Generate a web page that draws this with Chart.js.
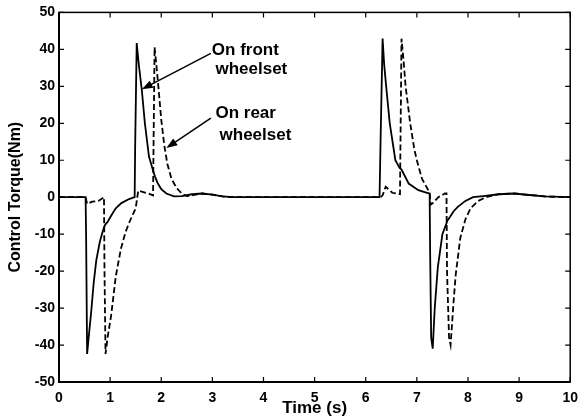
<!DOCTYPE html>
<html>
<head>
<meta charset="utf-8">
<script src="https://cdn.jsdelivr.net/npm/chart.js@4.4.1/dist/chart.umd.min.js"></script>
<style>
html, body { margin: 0; padding: 0; background: #fff; }
#wrap { width: 586px; height: 419px; }
</style>
</head>
<body>
<div id="wrap"><canvas id="mycanvas"></canvas></div>
<script>
// front wheelset (solid)
var timeFront = [0, 0.52, 0.53, 0.55, 0.58, 0.63, 0.68, 0.73, 0.8, 0.86, 0.9, 0.95, 1.02, 1.11, 1.22, 1.37, 1.48, 1.49, 1.52, 1.56, 1.62, 1.68, 1.76, 1.84, 1.88, 1.93, 2.0, 2.1, 2.25, 2.4, 2.6, 2.8, 3.0, 3.2, 3.4,
	6.27, 6.29, 6.33, 6.36, 6.4, 6.47, 6.58, 6.66, 6.7, 6.84, 7.03, 7.2, 7.25, 7.26, 7.28, 7.31, 7.35, 7.41, 7.5, 7.6, 7.65, 7.72, 7.8, 7.95, 8.1, 8.3, 8.6, 8.9, 9.2, 9.5, 10];
var torqueFront = [0, 0, -10, -42.4, -38, -31, -23, -17, -12, -9, -7.5, -6.7, -5, -3, -1.6, -0.5, 0, 14, 41.7, 36, 29, 20, 11, 7.2, 5.5, 3.8, 2.2, 1, 0.2, 0.3, 0.8, 1, 0.7, 0.2, 0,
	0, 15, 42.9, 36, 30, 20, 10, 8, 7.5, 3.7, 1.9, 1.2, 1, -15, -38, -41, -30, -19, -10, -6.3, -5.3, -3.8, -2.6, -1, 0, 0.3, 0.8, 1, 0.6, 0.2, 0];

// rear wheelset (dashed)
var timeRear = [0, 0.52, 0.55, 0.65, 0.77, 0.86, 0.88, 0.89, 0.91, 0.95, 1.02, 1.11, 1.21, 1.3, 1.37, 1.45, 1.5, 1.55, 1.65, 1.75, 1.84, 1.85, 1.87, 1.91, 1.95, 2.0, 2.06, 2.12, 2.2, 2.3, 2.4, 2.5, 2.6, 2.8, 3.0, 3.2, 3.4,
	6.29, 6.33, 6.39, 6.46, 6.52, 6.6, 6.67, 6.68, 6.7, 6.74, 6.78, 6.87, 6.95, 7.0, 7.1, 7.2, 7.25, 7.27, 7.32, 7.42, 7.55, 7.58, 7.59, 7.63, 7.66, 7.72, 7.76, 7.85, 7.95, 8.05, 8.2, 8.35, 8.6, 8.9, 9.2, 9.5, 10];
var torqueRear = [0, 0, -1.8, -1.2, -1, -0.2, 0, -20, -42.4, -38, -32, -21.5, -14, -9.5, -7, -4.5, -3, 1.8, 1.4, 1, 0.5, 15, 40.6, 35, 29, 21, 14, 9, 5, 2.5, 1, 0.3, 0.5, 1, 0.7, 0.2, 0,
	0, 0.5, 2.8, 2, 1.2, 1, 0.8, 15, 42.9, 37, 30, 20, 13, 10, 5, 2.5, 1.2, -2, -1.5, 0, 1, 1, -20, -38, -40, -28, -21, -11, -6, -3, -1, 0, 0.8, 1, 0.6, 0.2, 0];

var xTicks = [0, 1, 2, 3, 4, 5, 6, 7, 8, 9, 10];
var yTicks = [-50, -40, -30, -20, -10, 0, 10, 20, 30, 40, 50];

// annotations (data coordinates)
var labelLines = [
	{ t: 2.99, v: 38.5, text: 'On front' },
	{ t: 3.06, v: 33.2, text: 'wheelset' },
	{ t: 3.06, v: 21.3, text: 'On rear' },
	{ t: 3.14, v: 15.6, text: 'wheelset' }
];
var arrows = [
	{ t0: 2.97, v0: 38.9, t1: 1.62, v1: 29.2 },
	{ t0: 2.97, v0: 21.4, t1: 2.1, v1: 13.3 }
];

function pts(ts, vs) {
	var out = [];
	for (var i in ts) {
		out.push({ x: ts[i], y: vs[i] });
	}
	return out;
}

var frameAndNotes = {
	id: 'frameAndNotes',
	afterDatasetsDraw: function(chart) {
		var ctx = chart.ctx;
		var a = chart.chartArea;
		var xs = chart.scales.x, ys = chart.scales.y;
		ctx.save();
		ctx.strokeStyle = '#000';
		ctx.lineWidth = 1.5;
		ctx.strokeRect(a.left, a.top, a.right - a.left, a.bottom - a.top);
		ctx.lineWidth = 2;
		ctx.beginPath();
		ctx.moveTo(a.left, a.top);
		ctx.lineTo(a.left, a.bottom);
		ctx.lineTo(a.right, a.bottom);
		ctx.stroke();
		// inward ticks
		ctx.lineWidth = 1.2;
		ctx.beginPath();
		for (var i in xTicks) {
			var px = xs.getPixelForValue(xTicks[i]);
			ctx.moveTo(px, a.bottom); ctx.lineTo(px, a.bottom - 5);
			ctx.moveTo(px, a.top); ctx.lineTo(px, a.top + 5);
		}
		for (var j in yTicks) {
			var py = ys.getPixelForValue(yTicks[j]);
			ctx.moveTo(a.left, py); ctx.lineTo(a.left + 5, py);
			ctx.moveTo(a.right, py); ctx.lineTo(a.right - 5, py);
		}
		ctx.stroke();
		// arrows
		ctx.lineWidth = 1.5;
		ctx.fillStyle = '#000';
		for (var k in arrows) {
			var ar = arrows[k];
			var x0 = xs.getPixelForValue(ar.t0), y0 = ys.getPixelForValue(ar.v0);
			var x1 = xs.getPixelForValue(ar.t1), y1 = ys.getPixelForValue(ar.v1);
			var ang = Math.atan2(y1 - y0, x1 - x0);
			ctx.beginPath();
			ctx.moveTo(x0, y0);
			ctx.lineTo(x1 - 8 * Math.cos(ang), y1 - 8 * Math.sin(ang));
			ctx.stroke();
			ctx.beginPath();
			ctx.moveTo(x1, y1);
			ctx.lineTo(x1 - 11 * Math.cos(ang) + 4 * Math.sin(ang), y1 - 11 * Math.sin(ang) - 4 * Math.cos(ang));
			ctx.lineTo(x1 - 11 * Math.cos(ang) - 4 * Math.sin(ang), y1 - 11 * Math.sin(ang) + 4 * Math.cos(ang));
			ctx.closePath();
			ctx.fill();
		}
		// labels
		ctx.font = 'bold 17px "Liberation Sans", Arial, sans-serif';
		ctx.textAlign = 'left';
		ctx.textBaseline = 'alphabetic';
		for (var m in labelLines) {
			var l = labelLines[m];
			ctx.fillText(l.text, xs.getPixelForValue(l.t), ys.getPixelForValue(l.v));
		}
		ctx.restore();
	}
};

var tickFont = { family: '"Liberation Sans", Arial, sans-serif', size: 14, weight: 'bold' };

var ctx = document.getElementById('mycanvas');
var chart = new Chart(ctx, {
	type: 'line',
	data: {
		datasets: [
			{
				label: 'On front wheelset',
				data: pts(timeFront, torqueFront),
				borderColor: '#000',
				borderWidth: 1.8,
				pointRadius: 0,
				tension: 0,
				fill: false
			},
			{
				label: 'On rear wheelset',
				data: pts(timeRear, torqueRear),
				borderColor: '#000',
				borderWidth: 1.8,
				borderDash: [6, 3],
				pointRadius: 0,
				tension: 0,
				fill: false
			}
		]
	},
	options: {
		responsive: true,
		maintainAspectRatio: false,
		animation: false,
		layout: { padding: { top: 12, right: 9, left: 0, bottom: 0 } },
		plugins: { legend: { display: false }, tooltip: { enabled: false } },
		scales: {
			x: {
				type: 'linear',
				min: 0, max: 10,
				afterFit: function(s) { s.height = 37; },
				afterBuildTicks: function(s) { s.ticks = xTicks.map(function(v) { return { value: v }; }); },
				grid: { display: false, drawTicks: false },
				border: { display: false },
				ticks: { color: '#000', font: tickFont, padding: 8, maxRotation: 0 },
				title: { display: true, text: 'Time (s)', color: '#000', padding: 0,
					font: { family: '"Liberation Sans", Arial, sans-serif', size: 17, weight: 'bold' } }
			},
			y: {
				min: -50, max: 50,
				afterFit: function(s) { s.width = 59; },
				afterBuildTicks: function(s) { s.ticks = yTicks.map(function(v) { return { value: v }; }); },
				grid: { display: false, drawTicks: false },
				border: { display: false },
				ticks: { color: '#000', font: tickFont, padding: 4 },
				title: { display: true, text: 'Control Torque(Nm)', color: '#000', padding: { top: 6, bottom: 0 },
					font: { family: '"Liberation Sans", Arial, sans-serif', size: 16, weight: 'bold' } }
			}
		}
	},
	plugins: [frameAndNotes]
});
</script>
</body>
</html>
